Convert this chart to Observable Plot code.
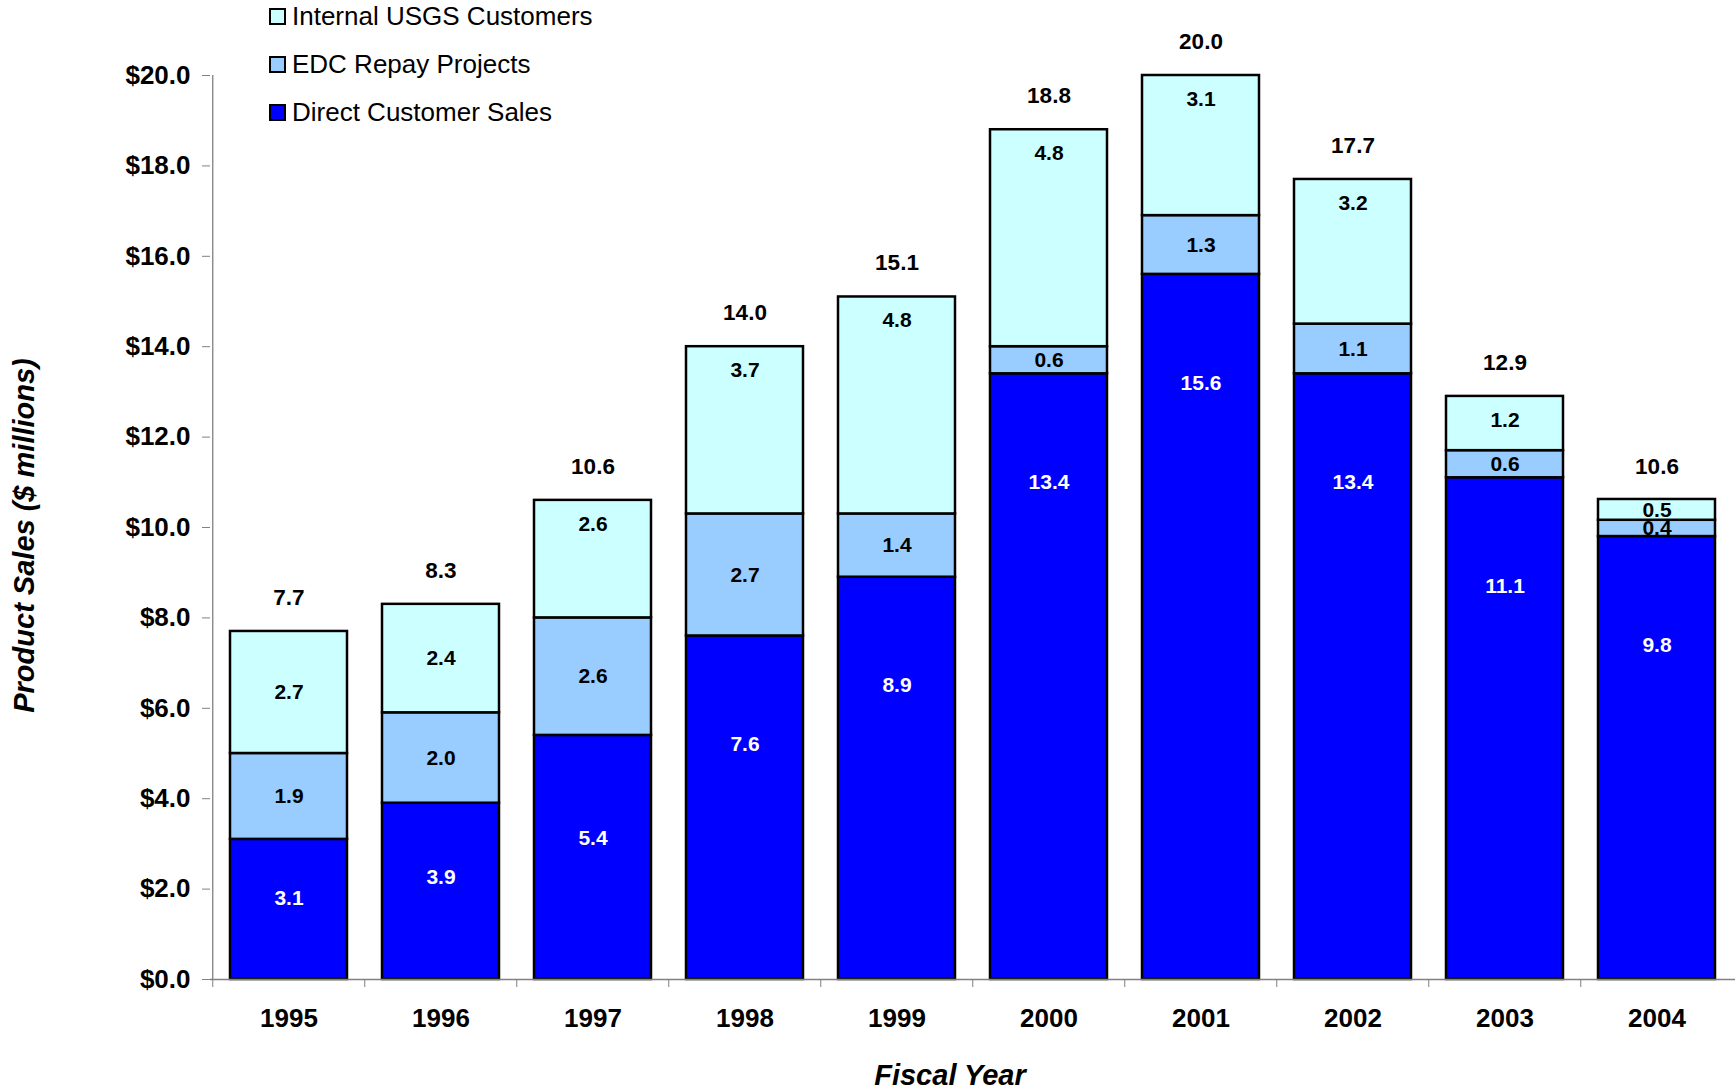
<!DOCTYPE html>
<html>
<head>
<meta charset="utf-8">
<script src="https://cdn.jsdelivr.net/npm/d3@7"></script>
<script src="https://cdn.jsdelivr.net/npm/@observablehq/plot@0.6"></script>
<style>
  body { margin: 0; background: #fff; }
  #wrap { position: relative; width: 1735px; height: 1090px; font-family: "Liberation Sans", Arial, sans-serif; }
  #legend { position: absolute; left: 269px; top: 0; }
  .li { position: absolute; display: flex; align-items: center; white-space: nowrap; font-size: 26px; color: #000; }
  .sw { width: 13px; height: 13px; border: 2px solid #000; margin-right: 6px; }
</style>
</head>
<body>
<div id="wrap"><div id="legend"></div></div>
<script>
const years = ["1995","1996","1997","1998","1999","2000","2001","2002","2003","2004"];
const directSales = [3.1, 3.9, 5.4, 7.6, 8.9, 13.4, 15.6, 13.4, 11.1, 9.8];
const edcRepay = [1.9, 2.0, 2.6, 2.7, 1.4, 0.6, 1.3, 1.1, 0.6, 0.36];
const internalUsgs = [2.7, 2.4, 2.6, 3.7, 4.8, 4.8, 3.1, 3.2, 1.2, 0.46];
const totals = [7.7, 8.3, 10.6, 14.0, 15.1, 18.8, 20.0, 17.7, 12.9, 10.6];
const seriesNames = ["Direct Customer Sales", "EDC Repay Projects", "Internal USGS Customers"];
const seriesColors = ["#0000FF", "#99CCFF", "#CCFFFF"];
const labelColors = ["#FFFFFF", "#000000", "#000000"];
const yTicks = [0, 2, 4, 6, 8, 10, 12, 14, 16, 18, 20];
const legendOrder = ["Internal USGS Customers", "EDC Repay Projects", "Direct Customer Sales"];

const W = 1735, H = 1090, ML = 210, MR = 0, MT = 75, MB = 111;
const step = (W - ML - MR) / years.length;
const font = "Liberation Sans, Arial, sans-serif";

// long-format table
const seriesValues = [directSales, edcRepay, internalUsgs];
const rows = [];
const labels = [];
years.forEach((yr, i) => {
  let base = 0;
  seriesValues.forEach((vals, s) => {
    const v = vals[i];
    const top = base + v;
    const mid = base + v / 2;
    let ly = mid;
    if (s === 0) ly = top - Math.min(2.4, 0.42 * v);
    if (s === 2 && totals[i] >= 10) ly = Math.max(mid, top - 0.52);
    rows.push({year: yr, series: seriesNames[s], value: v});
    labels.push({year: yr, series: seriesNames[s], y: ly, text: v.toFixed(1), color: labelColors[s]});
    base = top;
  });
});
const totalRows = years.map((yr, i) => ({year: yr, total: totals[i]}));

const chart = Plot.plot({
  width: W, height: H,
  marginLeft: ML, marginRight: MR, marginTop: MT, marginBottom: MB,
  style: {fontFamily: font, background: "#fff"},
  x: {type: "band", domain: years, paddingInner: 0.23, paddingOuter: 0.115, label: null},
  y: {domain: [0, 20], label: null},
  color: {domain: seriesNames, range: seriesColors},
  marks: [
    Plot.barY(rows, {x: "year", y: "value", fill: "series", stroke: "#000", strokeWidth: 2.5}),
    Plot.ruleY([0], {stroke: "#808080", strokeWidth: 1.3}),
    Plot.ruleX([years[0]], {dx: -step / 2, stroke: "#808080", strokeWidth: 1.3}),
    Plot.axisY({ticks: yTicks, tickSize: 8, tickPadding: 12, tickFormat: d => "$" + d.toFixed(1),
      fontSize: 26, fontWeight: "bold", stroke: "#808080", fill: "#000", label: null}),
    Plot.axisX({tickSize: 8, tickFormat: () => "", dx: -step / 2, stroke: "#808080", label: null}),
    Plot.axisX({tickSize: 0, tickPadding: 29, fontSize: 26, fontWeight: "bold", fill: "#000", label: null}),
    Plot.text(labels, {x: "year", y: "y", text: "text", fill: d => d.color, fontSize: 21, fontWeight: "bold", lineAnchor: "middle"}),
    Plot.text(totalRows, {x: "year", y: "total", text: d => d.total.toFixed(1), dy: -34, fontSize: 22.5, fontWeight: "bold", fill: "#000", lineAnchor: "middle"}),
    Plot.text(["Fiscal Year"], {frameAnchor: "bottom", text: d => d, dx: -23, dy: 96, fontSize: 29, fontWeight: "bold", fontStyle: "italic", lineAnchor: "middle", textAnchor: "middle", fill: "#000"}),
    Plot.text(["Product Sales ($ millions)"], {frameAnchor: "left", text: d => d, dx: -186, dy: 8, rotate: -90, fontSize: 29, fontWeight: "bold", fontStyle: "italic", lineAnchor: "middle", textAnchor: "middle", fill: "#000"})
  ]
});
document.getElementById("wrap").prepend(chart);

const legend = document.getElementById("legend");
const rowTops = [15.5, 64, 112];
legendOrder.forEach((name, i) => {
  const item = document.createElement("div");
  item.className = "li";
  item.style.top = (rowTops[i] - 15) + "px";
  const sw = document.createElement("span");
  sw.className = "sw";
  sw.style.background = seriesColors[seriesNames.indexOf(name)];
  const t = document.createElement("span");
  t.textContent = name;
  item.append(sw, t);
  legend.append(item);
});
</script>
</body>
</html>
